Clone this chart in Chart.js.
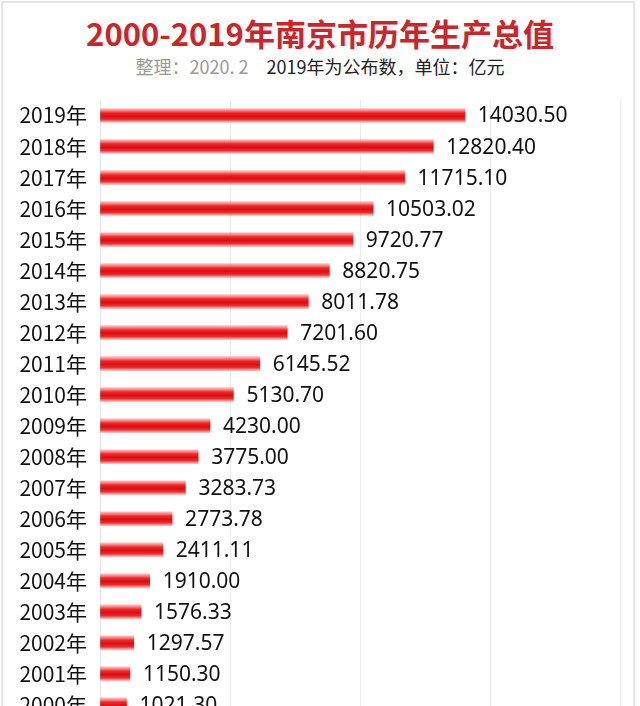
<!DOCTYPE html>
<html>
<head>
<meta charset="utf-8">
<script src="https://cdn.jsdelivr.net/npm/chart.js@4.4.0/dist/chart.umd.min.js"></script>
<style>
  html, body { margin: 0; padding: 0; background: #fff; overflow: hidden; }
  #wrap { position: relative; width: 640px; height: 706px; overflow: hidden; }
  #frame { position: absolute; left: 1px; top: 1px; width: 634px; height: 740px; border: 2px solid #e4e4e4; box-sizing: border-box; pointer-events: none; }
  #title { position: absolute; top: 13px; left: 0; width: 640px; text-align: center;
    font: bold 31px "Noto Sans CJK SC", sans-serif; color: #cc2429; line-height: 40px; }
  #sub { position: absolute; top: 54px; left: 0; width: 640px; text-align: center;
    font: 18px "Noto Sans CJK SC", sans-serif; color: #222; line-height: 24px; }
  #sub span { color: #999; margin-right: 18px; }
  #cv { position: absolute; left: 0; top: 0; }
</style>
</head>
<body>
<div id="wrap">
  <div id="title">2000-2019年南京市历年生产总值</div>
  <div id="sub"><span>整理：2020. 2</span>2019年为公布数，单位：亿元</div>
  <canvas id="cv" width="640" height="738"></canvas>
  <div id="frame"></div>
</div>
<script>
const years = ["2019年", "2018年", "2017年", "2016年", "2015年", "2014年", "2013年", "2012年", "2011年", "2010年",
  "2009年", "2008年", "2007年", "2006年", "2005年", "2004年", "2003年", "2002年", "2001年", "2000年"];
const gdp = [14030.50, 12820.40, 11715.10, 10503.02, 9720.77, 8820.75, 8011.78, 7201.60, 6145.52, 5130.70,
  4230.00, 3775.00, 3283.73, 2773.78, 2411.11, 1910.00, 1576.33, 1297.57, 1150.30, 1021.30];
const xMax = 20000;
const xStep = 5000;

function barFill(ctx) {
  const chart = ctx.chart;
  const y = chart.scales.y;
  if (!y || ctx.dataIndex === undefined) return "#e8141c";
  const yc = y.getPixelForValue(ctx.dataIndex);
  if (!isFinite(yc)) return "#e8141c";
  const g = chart.ctx.createLinearGradient(0, yc - 7, 0, yc + 7);
  g.addColorStop(0, "rgba(245,150,150,0.6)");
  g.addColorStop(0.3, "#f02a2a");
  g.addColorStop(0.55, "#dc0c12");
  g.addColorStop(0.8, "#f03030");
  g.addColorStop(1, "rgba(245,150,150,0.6)");
  return g;
}

const valueLabels = {
  id: "valueLabels",
  afterDatasetsDraw(chart) {
    const c = chart.ctx;
    const meta = chart.getDatasetMeta(0);
    c.save();
    c.font = '21px "Noto Sans", sans-serif';
    c.fillStyle = "#111";
    c.textBaseline = "middle";
    meta.data.forEach((bar, i) => {
      c.fillText(gdp[i].toFixed(2), bar.x + 13, bar.y + 1);
    });
    c.restore();
  }
};

new Chart(document.getElementById("cv"), {
  type: "bar",
  data: {
    labels: years,
    datasets: [{
      data: gdp,
      backgroundColor: barFill,
      barThickness: 14,
      borderWidth: 0
    }]
  },
  plugins: [valueLabels],
  options: {
    indexAxis: "y",
    responsive: false,
    animation: false,
    layout: { padding: { top: 100, right: 20, left: 0, bottom: 14 } },
    plugins: { legend: { display: false }, tooltip: { enabled: false } },
    scales: {
      x: {
        min: 0, max: xMax,
        ticks: { display: false, stepSize: xStep },
        grid: { color: "#ececec", lineWidth: 1, drawTicks: false },
        border: { display: false }
      },
      y: {
        afterFit: s => { s.width = 100; },
        grid: { display: false },
        border: { display: true, color: "#e6e6e6" },
        ticks: { color: "#111", font: { size: 21, family: '"Noto Sans CJK SC", sans-serif' }, padding: 5 }
      }
    }
  }
});
</script>
</body>
</html>
